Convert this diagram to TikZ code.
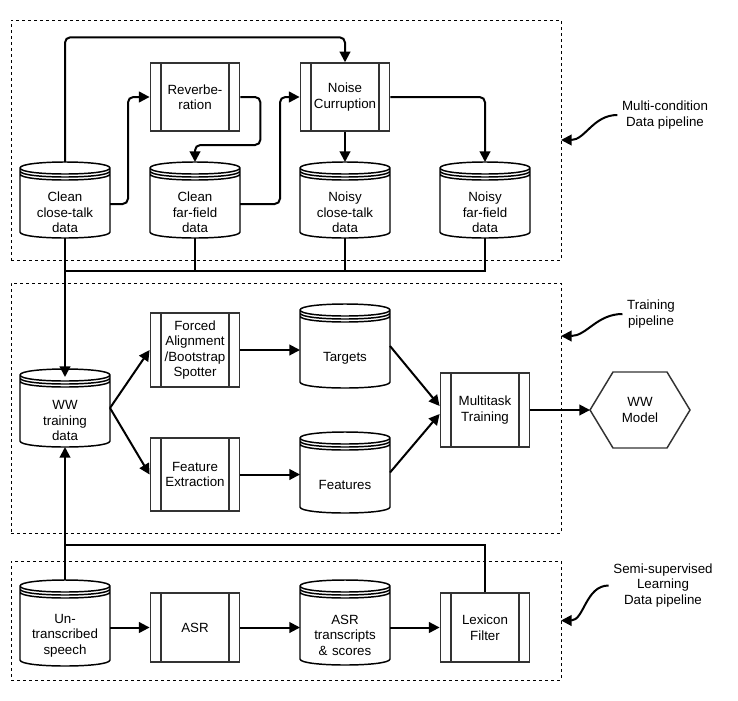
\documentclass[tikz,border=0pt]{standalone}
\usepackage{fontspec}
\setmainfont{Liberation Sans}
\usetikzlibrary{arrows.meta,calc}

\begin{document}
\begin{tikzpicture}[x=0.75pt, y=-0.75pt, font=\fontsize{10}{11.6}\selectfont,
  zone/.style={draw, dash pattern=on 2.25pt off 2.25pt, line width=0.75pt, minimum width=412.5pt, minimum height=#1, inner sep=0pt, outer sep=0pt},
  store/.style={minimum width=69.5pt, minimum height=#1, inner sep=0pt, outer sep=-1pt, text width=64pt, align=center, text height=26pt,
    path picture={\draw [line width=1.1pt, fill=white] let \p1=(path picture bounding box.north west), \p2=(path picture bounding box.south east) in
      (\x1+1pt,\y1-5.5pt) .. controls (\x1+1pt,\y1+0.5pt) and (\x2-1pt,\y1+0.5pt) .. (\x2-1pt,\y1-5.5pt)
      -- (\x2-1pt,\y2+5.5pt) .. controls (\x2-1pt,\y2-0.5pt) and (\x1+1pt,\y2-0.5pt) .. (\x1+1pt,\y2+5.5pt) -- cycle
      \foreach \d in {5.5pt,7.75pt,10pt} { (\x1+1pt,\y1-\d) .. controls (\x1+1pt,\y1-\d-6pt) and (\x2-1pt,\y1-\d-6pt) .. (\x2-1pt,\y1-\d) };}},
  store/.default=59pt,
  proc/.style={draw=black!80, fill=white, line width=1.1pt, minimum width=67pt, minimum height=#1, align=center,
    path picture={\draw [black!80, line width=1.1pt]
      ([xshift=8pt]path picture bounding box.north west) -- ([xshift=8pt]path picture bounding box.south west)
      ([xshift=-8pt]path picture bounding box.north east) -- ([xshift=-8pt]path picture bounding box.south east);}},
  proc/.default=51pt,
  hexa/.style={minimum width=77pt, minimum height=59pt, inner sep=0pt, outer sep=-1pt, align=center,
    path picture={\draw [black!80, line width=1.1pt, fill=white] let \p1=(path picture bounding box.north west), \p2=(path picture bounding box.south east) in
      (\x1+1pt,0.5*\y1+0.5*\y2) -- (\x1+18.25pt,\y1-1pt) -- (\x2-18.25pt,\y1-1pt) -- (\x2-1pt,0.5*\y1+0.5*\y2)
      -- (\x2-18.25pt,\y2+1pt) -- (\x1+18.25pt,\y2+1pt) -- cycle;}},
  note/.style={align=center},
  wire/.style={line width=1.5pt},
  flow/.style={wire, -{Triangle[length=8pt, width=8pt]}},
]
\useasboundingbox (0,0) rectangle (738,700);

% pipelines
\node [zone=180pt] (f1) at (286,140) {};
\node [zone=187.5pt] (f2) at (286,408) {};
\node [zone=89.25pt] (f3) at (286,620.5) {};

% multi-condition data
\node [store] (v0) at (65,200) {Clean\\close-talk\\data};
\node [proc] (v1) at (195,97) {Reverbe-\\ration};
\node [store] (v2) at (195,200) {Clean\\far-field\\data};
\node [proc] (v3) at (345,97) {Noise\\Curruption};
\node [store] (v4) at (345,200) {Noisy\\close-talk\\data};
\node [store] (v5) at (485,200) {Noisy\\far-field\\data};

% training
\node [store=60.5pt] (v6) at (65,408) {WW\\training\\data};
\node [proc=55.5pt] (v7) at (195,350) {Forced\\Alignment\\/Bootstrap\\Spotter};
\node [proc=54.75pt] (v8) at (195,474.5) {Feature\\Extraction};
\node [store=65pt] (v9) at (345,346) {Targets};
\node [store=62.75pt] (v10) at (345,472.5) {Features};
\node [proc=55.5pt] (v11) at (485,410) {Multitask\\Training};
\node [hexa] (v12) at (640,410) {WW\\Model};

% semi-supervised
\node [store=66.5pt] (v13) at (65,623) {Un-\\transcribed\\speech};
\node [proc=51.75pt] (v14) at (195,627.5) {ASR};
\node [store=65.75pt] (v15) at (345,622.5) {ASR\\transcripts\\\& scores};
\node [proc=51.75pt] (v16) at (485,627.5) {Lexicon\\Filter};

\node [note] (l1) at (665,115) {Multi-condition\\Data pipeline};
\node [note] (l2) at (651,314) {Training\\pipeline};
\node [note] (l3) at (663,585.5) {Semi-supervised\\Learning\\Data pipeline};

\coordinate (j1) at (65,271);
\coordinate (j2) at (65,545);

\draw [flow, rounded corners=4pt] (v0.north) |- ([yshift=18.75pt]v3.north) -- (v3.north);
\draw [flow, rounded corners=4pt] ([yshift=-3pt]v0.east) -- ++(18,0) |- (v1.west);
\draw [flow, rounded corners=4pt] (v1.east) -- ++(20,0) |- ([yshift=12.75pt]v2.north) -- (v2.north);
\draw [flow, rounded corners=4pt] ([yshift=-3pt]v2.east) -- ++(40,0) |- (v3.west);
\draw [flow] (v3.south) -- (v4.north);
\draw [flow, rounded corners=4pt] (v3.east) -| (v5.north);

\draw [wire] (v2.south) |- (j1);
\draw [wire] (v4.south) |- (j1);
\draw [wire] (v5.south) |- (j1);
\draw [flow, shorten >=-6pt] (v0.south) -- (v6.north);

\draw [flow] (v6.east) -- (v7.west);
\draw [flow] (v6.east) -- (v8.west);
\draw [flow] (v7.east) -- (v7.east -| v9.west);
\draw [flow] (v8.east) -- (v8.east -| v10.west);
\draw [flow] (v9.east) -- ([yshift=3pt]v11.west);
\draw [flow] (v10.east) -- ([yshift=-3pt]v11.west);
\draw [flow] (v11.east) -- (v12.west);

\draw [wire] (v16.north) |- (j2);
\draw [flow] (v13.north) -- (v6.south);
\draw [flow] (v14.west -| v13.east) -- (v14.west);
\draw [flow] (v14.east) -- (v14.east -| v15.west);
\draw [flow] (v16.west -| v15.east) -- (v16.west);

\draw [flow] (l1.west) to [out=180, in=0] (f1.east);
\draw [flow] (l2.west) to [out=180, in=0] ([yshift=54pt]f2.east);
\draw [flow] (l3.west) to [out=180, in=0] (f3.east);
\end{tikzpicture}
\end{document}
